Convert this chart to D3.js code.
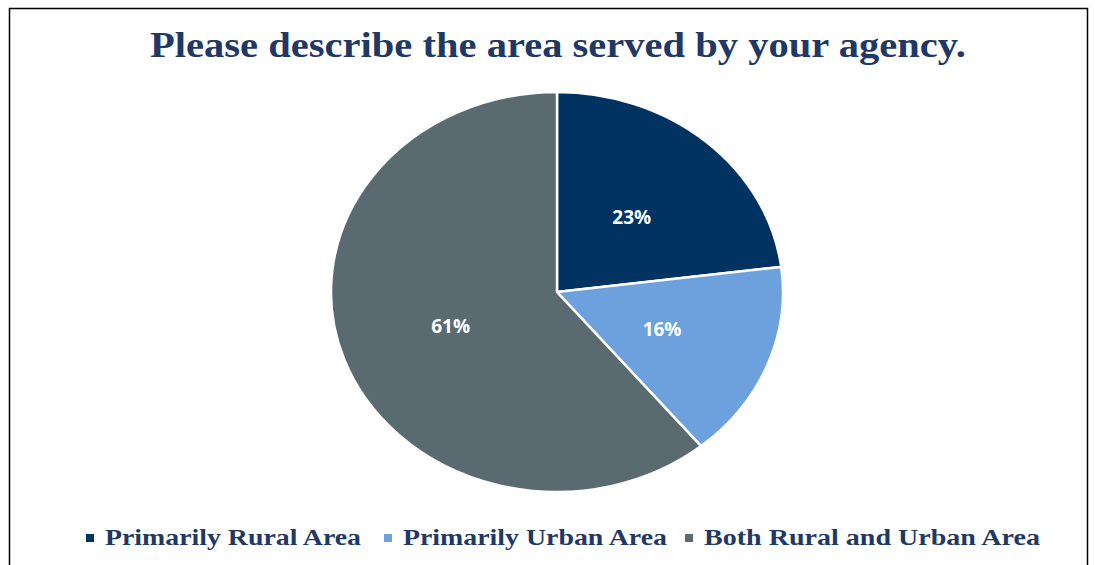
<!DOCTYPE html>
<html>
<head>
<meta charset="utf-8">
<script src="https://cdn.jsdelivr.net/npm/d3@7"></script>
<style>
  body { margin: 0; background: #fff; }
  svg { display: block; }
</style>
</head>
<body>
<svg id="chart"></svg>
<script>
const categories = ["Primarily Rural Area", "Primarily Urban Area", "Both Rural and Urban Area"];
const values = [23, 16, 61];
const colors = ["#003262", "#6CA1DE", "#5A6A71"];
const title = "Please describe the area served by your agency.";

const width = 1095, height = 565;
const svg = d3.select("#chart").attr("width", width).attr("height", height);

// outer frame
svg.append("rect")
  .attr("x", 9.5).attr("y", 8.5)
  .attr("width", 1078).attr("height", 600)
  .attr("fill", "none")
  .attr("stroke", "#000")
  .attr("stroke-width", 1.5);

svg.append("text")
  .attr("x", 558).attr("y", 57)
  .attr("text-anchor", "middle")
  .attr("font-family", "'Liberation Serif', 'Times New Roman', serif")
  .attr("font-weight", "bold")
  .attr("font-size", 35)
  .attr("fill", "#1F3864")
  .attr("textLength", 816)
  .attr("lengthAdjust", "spacingAndGlyphs")
  .text(title);

// pie is slightly stretched horizontally in the reference
const cx = 557, cy = 292, r = 200, sx = 1.13;
const pie = d3.pie().sort(null).value(d => d)(values);
const arc = d3.arc().innerRadius(0).outerRadius(r);
const labelArc = d3.arc().innerRadius(100).outerRadius(100);

const g = svg.append("g").attr("transform", `translate(${cx},${cy}) scale(${sx},1)`);
g.selectAll("path")
  .data(pie)
  .join("path")
  .attr("d", arc)
  .attr("fill", (d, i) => colors[i])
  .attr("stroke", "#fff")
  .attr("stroke-width", 2.5)
  .attr("vector-effect", "non-scaling-stroke");

svg.append("g")
  .selectAll("text")
  .data(pie)
  .join("text")
  .attr("x", d => cx + labelArc.centroid(d)[0] * sx)
  .attr("y", d => cy + labelArc.centroid(d)[1] + 7)
  .attr("text-anchor", "middle")
  .attr("font-family", "'Open Sans', sans-serif")
  .attr("font-weight", "bold")
  .attr("font-size", 19)
  .attr("fill", "#fff")
  .text(d => d.data + "%");

// legend
const legendX = [86, 384, 685];
const legendW = [256, 264, 336];
const lg = svg.append("g").selectAll("g")
  .data(categories)
  .join("g");
lg.append("rect")
  .attr("x", (d, i) => legendX[i]).attr("y", 534)
  .attr("width", 8).attr("height", 8)
  .attr("fill", (d, i) => colors[i]);
lg.append("text")
  .attr("x", (d, i) => legendX[i] + 19).attr("y", 545)
  .attr("font-family", "'Liberation Serif', 'Times New Roman', serif")
  .attr("font-weight", "bold")
  .attr("font-size", 23)
  .attr("fill", "#1F3864")
  .attr("textLength", (d, i) => legendW[i])
  .attr("lengthAdjust", "spacingAndGlyphs")
  .text(d => d);
</script>
</body>
</html>
